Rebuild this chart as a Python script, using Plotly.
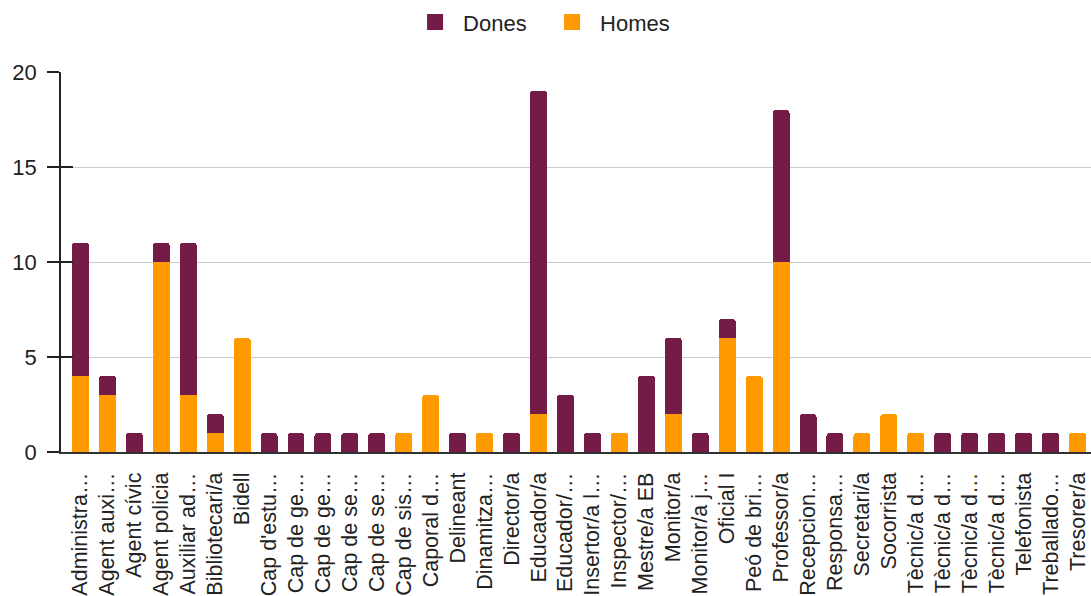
import plotly.graph_objects as go

categories = ["Administra…", "Agent auxi…", "Agent cívic", "Agent policia", "Auxiliar ad…",
              "Bibliotecari/a", "Bidell", "Cap d'estu…", "Cap de ge…", "Cap de ge…",
              "Cap de se…", "Cap de se…", "Cap de sis…", "Caporal d…", "Delineant",
              "Dinamitza…", "Director/a", "Educador/a", "Educador/…", "Insertor/a l…",
              "Inspector/…", "Mestre/a EB", "Monitor/a", "Monitor/a j…", "Oficial I",
              "Peó de bri…", "Professor/a", "Recepcion…", "Responsa…", "Secretari/a",
              "Socorrista", "Tècnic/a d…", "Tècnic/a d…", "Tècnic/a d…", "Tècnic/a d…",
              "Telefonista", "Treballado…", "Tresorer/a"]

homes = [4, 3, 0, 10, 3, 1, 6, 0, 0, 0,
         0, 0, 1, 3, 0, 1, 0, 2, 0, 0,
         1, 0, 2, 0, 6, 4, 10, 0, 0, 1,
         2, 1, 0, 0, 0, 0, 0, 1]

dones = [7, 1, 1, 1, 8, 1, 0, 1, 1, 1,
         1, 1, 0, 0, 1, 0, 1, 17, 3, 1,
         0, 4, 4, 1, 1, 0, 8, 2, 1, 0,
         0, 0, 1, 1, 1, 1, 1, 0]

y_ticks = [0, 5, 10, 15, 20]

COL_H = "#ff9900"
COL_D = "#741b47"

x = list(range(len(categories)))

fig = go.Figure()
fig.add_trace(go.Bar(x=x, y=homes, name="Homes", showlegend=False,
                     marker=dict(color=COL_H, line=dict(width=0))))
fig.add_trace(go.Bar(x=x, y=dones, name="Dones", showlegend=False,
                     marker=dict(color=COL_D, line=dict(width=0))))
# legend entries
fig.add_trace(go.Scatter(x=[None], y=[None], mode="markers", name="Homes",
                         marker=dict(symbol="square", size=22, color=COL_H)))
fig.add_trace(go.Scatter(x=[None], y=[None], mode="markers", name="Dones",
                         marker=dict(symbol="square", size=22, color=COL_D)))
# invisible trace on overlay axis so inner tick marks render
fig.add_trace(go.Scatter(x=[None], y=[None], yaxis="y2", showlegend=False, hoverinfo="skip"))

fig.update_layout(
    width=1091, height=596,
    barmode="stack",
    bargap=0.37,
    barcornerradius=3,
    plot_bgcolor="white",
    paper_bgcolor="white",
    font=dict(family="Liberation Sans, Arial, sans-serif", size=22, color="#222222"),
    margin=dict(l=61, r=0, t=72, b=144),
    legend=dict(orientation="h", x=0.469, xanchor="center", y=0.998, yanchor="top",
                yref="container", traceorder="reversed", font=dict(size=22),
                itemsizing="trace", itemwidth=46, entrywidth=76),
    showlegend=True,
)

fig.update_xaxes(
    tickmode="array", tickvals=x, ticktext=categories, tickangle=-90,
    range=[-0.72, 37.5], showgrid=False, showline=True, linecolor="#333333", linewidth=2,
    ticks="", tickfont=dict(size=21.5, color="#222222"), ticklabelstandoff=10,
    automargin=False,
)
fig.update_yaxes(
    range=[0, 20], tickvals=y_ticks, showgrid=True, gridcolor="#cccccc", gridwidth=1,
    showline=True, linecolor="#222222", linewidth=1.5, ticks="outside", ticklen=12,
    tickcolor="#222222", tickwidth=2, zeroline=False, tickfont=dict(size=22, color="#222222"),
    ticklabelstandoff=6, automargin=False,
)
fig.update_layout(yaxis2=dict(
    overlaying="y", side="left", anchor="x", range=[0, 20], tickvals=y_ticks,
    ticks="inside", ticklen=12, tickwidth=2, tickcolor="#222222",
    showticklabels=False, showgrid=False, showline=False, zeroline=False,
))

fig.write_html("out.html")
